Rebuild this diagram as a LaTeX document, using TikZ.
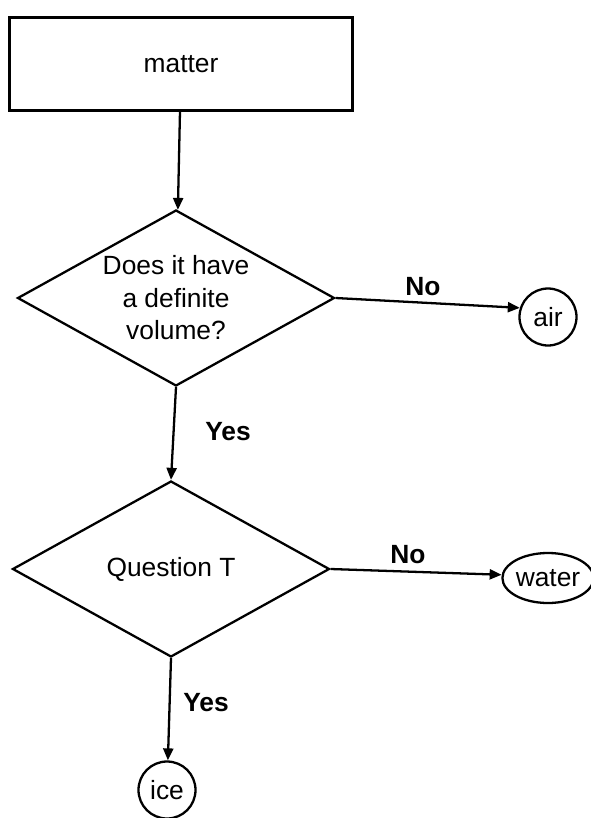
\documentclass[tikz,border=0pt]{standalone}
\usepackage{fontspec}
\setmainfont{Liberation Sans}
\usetikzlibrary{shapes.geometric,arrows.meta}

\begin{document}
\begin{tikzpicture}[
  line width=1.3pt,
  every node/.style={font=\fontsize{15}{18.5}\selectfont},
  box/.style={draw,rectangle,minimum width=6.86cm,minimum height=1.86cm},
  ask/.style={draw,diamond,shape aspect=1.8,inner sep=0pt,align=center,
    minimum width=6.34cm,minimum height=3.52cm},
  leaf/.style={draw,circle,inner sep=0pt,minimum size=1.14cm},
  answer/.style={font=\fontsize{15}{18}\selectfont\bfseries},
  flow/.style={-{Triangle[length=0.24cm,width=0.2cm]}}]
\useasboundingbox (0,0) rectangle (11.8,-16.36);
\node [box] (matter) at (3.62,-1.28) {matter};
\node [ask] (volume) at (3.52,-5.96) {Does it have\\a definite\\volume?};
\node [leaf] (air) at (10.96,-6.34) {air};
\node [ask] (questT) at (3.42,-11.38) {Question T};
\node [draw,ellipse,inner sep=0pt,minimum width=1.74cm,minimum height=1cm] (water) at (10.96,-11.56) {water};
\node [leaf] (ice) at (3.34,-15.8) {ice};
\node [answer] (noA) at (8.46,-5.74) {No};
\node [answer] (yesA) at (4.56,-8.64) {Yes};
\node [answer] (noB) at (8.16,-11.1) {No};
\node [answer] (yesB) at (4.12,-14.06) {Yes};
\draw [flow] (matter) -- (volume);
\draw [flow] (volume.east) -- (air.162);
\draw [flow] (volume.south) -- (questT.north);
\draw [flow] (questT.east) -- (water.176);
\draw [flow] (questT.south) -- (ice);
\end{tikzpicture}
\end{document}
